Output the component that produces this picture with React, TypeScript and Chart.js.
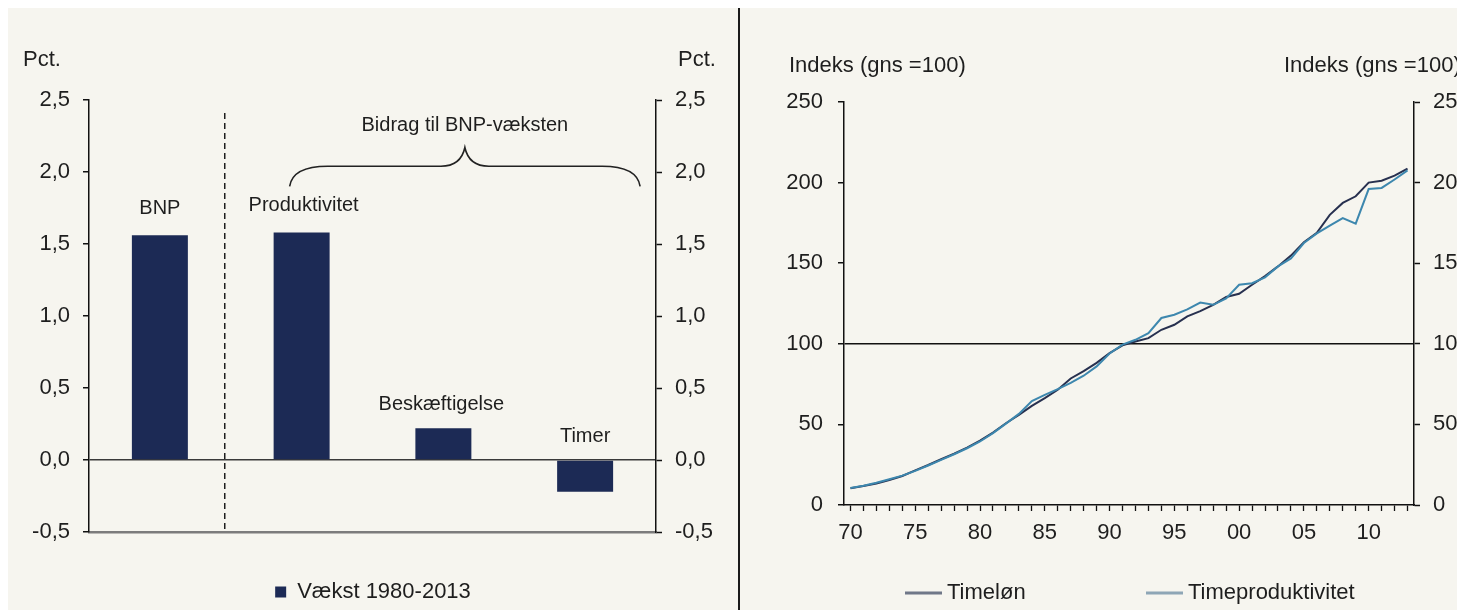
import React, { useEffect, useRef } from 'react';
import { Chart, registerables } from 'chart.js';

Chart.register(...registerables);

// ---------- Left panel data ----------
const growthCategories = ['BNP', 'Produktivitet', 'Beskæftigelse', 'Timer'];
const growthValues = [1.56, 1.58, 0.22, -0.22];
const growthSeriesName = 'Vækst 1980-2013';
const growthAxisTitle = 'Pct.';
const growthBraceLabel = 'Bidrag til BNP-væksten';

// ---------- Right panel data ----------
const years = [
  '1970', '1971', '1972', '1973', '1974', '1975', '1976', '1977', '1978', '1979',
  '1980', '1981', '1982', '1983', '1984', '1985', '1986', '1987', '1988', '1989',
  '1990', '1991', '1992', '1993', '1994', '1995', '1996', '1997', '1998', '1999',
  '2000', '2001', '2002', '2003', '2004', '2005', '2006', '2007', '2008', '2009',
  '2010', '2011', '2012', '2013',
];
const timelon = [
  10.4, 11.8, 13.3, 15.5, 18.0, 21.5, 24.8, 28.4, 31.8, 35.6,
  39.9, 44.9, 50.7, 55.9, 61.5, 66.3, 71.5, 78.5, 83.0, 88.2,
  94.2, 99.0, 101.4, 103.5, 108.7, 111.8, 117.0, 120.3, 124.2, 129.0,
  131.0, 136.6, 142.0, 148.0, 154.7, 163.0, 168.8, 180.0, 187.4, 191.5,
  200.0, 201.2, 204.3, 208.7,
];
const timeproduktivitet = [
  10.6, 12.0, 13.8, 16.0, 18.2, 21.2, 24.5, 28.0, 31.5, 35.2,
  39.4, 44.6, 50.5, 56.5, 64.5, 68.3, 71.9, 75.8, 80.2, 86.0,
  94.0, 99.5, 102.5, 106.6, 116.0, 118.0, 121.3, 125.6, 124.2, 128.2,
  136.6, 137.6, 141.2, 148.0, 153.0, 162.5, 168.5, 173.3, 178.0, 174.5,
  196.0, 196.7, 201.9, 207.6,
];
const lineSeriesNames = ['Timeløn', 'Timeproduktivitet'];
const indexAxisTitle = 'Indeks (gns =100)';

// ---------- Styles ----------
const FONT = '"Liberation Sans", Arial, Helvetica, sans-serif';
const TEXT = '#1e1e1e';
const BG = '#f6f5ef';
const BAR = '#1c2a55';
const LON = '#27304f';
const PROD = '#3d87ae';
const LEGEND_LINE = ['#6f7788', '#8ea6b6'];
const AXIS = '#111111';

// annotation anchors (value space) for the bar labels
const growthLabelLevels = [1.75, 1.77, 0.385, 0.16];
const growthLabelDx = [0, 2, -2, 0];

const fmtComma = (v: any) => Number(v).toFixed(1).replace('.', ',');

const leftDecor = {
  id: 'leftDecor',
  afterDraw(chart: any) {
    const { ctx, chartArea: a, scales } = chart;
    const x = scales.x;
    const y = scales.y;
    ctx.save();
    // dashed separator
    const xs = (x.getPixelForValue(0) + x.getPixelForValue(1)) / 2 - 6;
    ctx.strokeStyle = '#1e1e1e';
    ctx.lineWidth = 1.5;
    ctx.setLineDash([6, 4]);
    ctx.beginPath();
    ctx.moveTo(xs, y.getPixelForValue(2.41));
    ctx.lineTo(xs, a.bottom);
    ctx.stroke();
    ctx.setLineDash([]);

    // brace
    const L = x.getPixelForValue(1) - 12;
    const R = x.getPixelForValue(3) + 55;
    const C = (L + R) / 2;
    const yEnd = y.getPixelForValue(1.9);
    const yH = y.getPixelForValue(2.04);
    const yPeak = y.getPixelForValue(2.17);
    ctx.lineWidth = 1.6;
    ctx.strokeStyle = '#222';
    ctx.beginPath();
    ctx.moveTo(L, yEnd);
    ctx.quadraticCurveTo(L + 3, yH, L + 38, yH);
    ctx.lineTo(C - 24, yH);
    ctx.quadraticCurveTo(C - 4, yH, C, yPeak);
    ctx.quadraticCurveTo(C + 4, yH, C + 24, yH);
    ctx.lineTo(R - 38, yH);
    ctx.quadraticCurveTo(R - 3, yH, R, yEnd);
    ctx.stroke();

    // labels
    ctx.fillStyle = TEXT;
    ctx.font = `20px ${FONT}`;
    ctx.textAlign = 'center';
    ctx.textBaseline = 'middle';
    growthCategories.forEach((c, i) => {
      ctx.fillText(c, x.getPixelForValue(i) + growthLabelDx[i], y.getPixelForValue(growthLabelLevels[i]));
    });
    ctx.fillText(growthBraceLabel, C, y.getPixelForValue(2.325));

    ctx.font = `22px ${FONT}`;
    ctx.textAlign = 'left';
    ctx.fillText(growthAxisTitle, a.left - 66, a.top - 40);
    ctx.fillText(growthAxisTitle, a.right + 22, a.top - 40);
    ctx.restore();
  },
};

const rightDecor = {
  id: 'rightDecor',
  afterDraw(chart: any) {
    const { ctx, chartArea: a } = chart;
    ctx.save();
    ctx.font = `22px ${FONT}`;
    ctx.fillStyle = TEXT;
    ctx.textBaseline = 'middle';
    ctx.textAlign = 'left';
    ctx.fillText(indexAxisTitle, a.left - 55, a.top - 36);
    ctx.fillText(indexAxisTitle, a.right - 130, a.top - 36);

    // legend
    const ly = a.bottom + 88;
    const starts = [a.left + 61, a.left + 302];
    lineSeriesNames.forEach((name, i) => {
      ctx.strokeStyle = LEGEND_LINE[i];
      ctx.lineWidth = 3;
      ctx.beginPath();
      ctx.moveTo(starts[i], ly);
      ctx.lineTo(starts[i] + 37, ly);
      ctx.stroke();
      ctx.fillStyle = TEXT;
      ctx.fillText(name, starts[i] + 42, ly);
    });
    ctx.restore();
  },
};

export default function App() {
  const leftRef = useRef<HTMLCanvasElement>(null);
  const rightRef = useRef<HTMLCanvasElement>(null);

  useEffect(() => {
    Chart.defaults.font.family = FONT;
    Chart.defaults.color = TEXT;

    const tickFont = { size: 22, family: FONT };

    const left = new Chart(leftRef.current as HTMLCanvasElement, {
      type: 'bar',
      data: {
        labels: growthCategories,
        datasets: [
          {
            label: growthSeriesName,
            data: growthValues,
            backgroundColor: BAR,
            borderWidth: 0,
            categoryPercentage: 1,
            barPercentage: 0.395,
          },
        ],
      },
      options: {
        responsive: false,
        animation: false,
        events: [],
        layout: { padding: { top: 92, bottom: -3, left: 0, right: 0 } },
        plugins: {
          legend: {
            position: 'bottom',
            labels: {
              boxWidth: 11,
              boxHeight: 11,
              padding: 10,
              color: TEXT,
              font: { size: 22, family: FONT },
            },
          },
          tooltip: { enabled: false },
        },
        scales: {
          x: {
            offset: true,
            grid: { display: false },
            ticks: { display: false },
            border: { display: true, color: '#7c7c7c', width: 2.5 },
            afterFit: (s: any) => {
              s.height = 39;
            },
          },
          y: {
            position: 'left',
            min: -0.5,
            max: 2.5,
            ticks: { stepSize: 0.5, padding: 13, color: TEXT, font: tickFont, callback: fmtComma },
            grid: {
              color: (c: any) => (c.tick && c.tick.value === 0 ? '#3a3a3a' : 'rgba(0,0,0,0)'),
              lineWidth: 1.5,
              tickColor: AXIS,
              tickWidth: 1.5,
              tickLength: 6,
              drawTicks: true,
            },
            border: { color: AXIS, width: 1.5 },
            afterFit: (s: any) => {
              s.width = 81;
            },
          },
          y2: {
            position: 'right',
            min: -0.5,
            max: 2.5,
            ticks: { stepSize: 0.5, padding: 13, color: TEXT, font: tickFont, callback: fmtComma },
            grid: { drawOnChartArea: false, tickColor: AXIS, tickWidth: 1.5, tickLength: 6 },
            border: { color: AXIS, width: 1.5 },
            afterFit: (s: any) => {
              s.width = 82;
            },
          },
        },
      } as any,
      plugins: [leftDecor],
    });

    const right = new Chart(rightRef.current as HTMLCanvasElement, {
      type: 'line',
      data: {
        labels: years,
        datasets: [
          {
            label: lineSeriesNames[0],
            data: timelon,
            borderColor: LON,
            backgroundColor: LON,
            borderWidth: 2,
            pointRadius: 0,
            tension: 0,
            fill: false,
            order: 2,
          },
          {
            label: lineSeriesNames[1],
            data: timeproduktivitet,
            borderColor: PROD,
            backgroundColor: PROD,
            borderWidth: 2,
            pointRadius: 0,
            tension: 0,
            fill: false,
            order: 1,
          },
        ],
      },
      options: {
        responsive: false,
        animation: false,
        events: [],
        layout: { padding: { top: 94, bottom: 0, left: 0, right: 0 } },
        plugins: { legend: { display: false }, tooltip: { enabled: false } },
        scales: {
          x: {
            offset: true,
            grid: {
              offset: false,
              drawOnChartArea: false,
              color: AXIS,
              tickColor: AXIS,
              tickLength: 6,
              tickWidth: 1.3,
            },
            border: { color: AXIS, width: 1.5 },
            ticks: {
              autoSkip: false,
              maxRotation: 0,
              minRotation: 0,
              padding: 9,
              color: TEXT,
              font: tickFont,
              callback: (_v: any, i: number) => {
                const yr = years[i];
                return Number(yr) % 5 === 0 ? yr.slice(2) : '';
              },
            },
            afterFit: (s: any) => {
              s.height = 105;
            },
          },
          y: {
            position: 'left',
            min: 0,
            max: 250,
            ticks: { stepSize: 50, padding: 15, color: TEXT, font: tickFont },
            grid: {
              color: (c: any) => (c.tick && c.tick.value === 100 ? AXIS : 'rgba(0,0,0,0)'),
              lineWidth: 1.5,
              tickColor: AXIS,
              tickWidth: 1.5,
              tickLength: 6,
            },
            border: { color: AXIS, width: 1.5 },
            afterFit: (s: any) => {
              s.width = 103;
            },
          },
          y2: {
            position: 'right',
            min: 0,
            max: 250,
            ticks: { stepSize: 50, padding: 13, color: TEXT, font: tickFont },
            grid: { drawOnChartArea: false, tickColor: AXIS, tickWidth: 1.5, tickLength: 6 },
            border: { color: AXIS, width: 1.5 },
            afterFit: (s: any) => {
              s.width = 51;
            },
          },
        },
      } as any,
      plugins: [rightDecor],
    });

    return () => {
      left.destroy();
      right.destroy();
    };
  }, []);

  return (
    <div
      style={{
        position: 'relative',
        width: 1457,
        height: 602,
        background: BG,
        overflow: 'hidden',
      }}
    >
      <style>{'body{overflow:hidden}'}</style>
      <canvas ref={leftRef} width={730} height={602} style={{ position: 'absolute', left: 0, top: 0 }} />
      <div style={{ position: 'absolute', left: 730, top: 0, width: 2, height: 602, background: '#1a1a1a' }} />
      <canvas ref={rightRef} width={724} height={602} style={{ position: 'absolute', left: 733, top: 0 }} />
    </div>
  );
}
